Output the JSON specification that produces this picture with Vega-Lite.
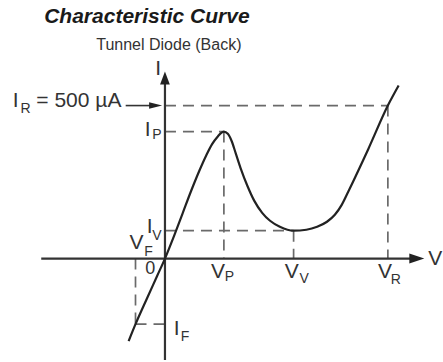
{
  "$schema": "https://vega.github.io/schema/vega-lite/v6.json",
  "width": 443,
  "height": 362,
  "autosize": {"type": "fit", "contains": "padding"},
  "padding": 0,
  "background": "white",
  "config": {"view": {"stroke": null}},
  "datasets": {
    "curve": [
      {"v": -74, "i": -269.75},
      {"v": -60, "i": -214.5},
      {"v": -36, "i": -128},
      {"v": -16, "i": -57},
      {"v": 0, "i": 0},
      {"v": 18, "i": 72},
      {"v": 36, "i": 148},
      {"v": 54, "i": 224},
      {"v": 70, "i": 287},
      {"v": 84, "i": 337},
      {"v": 96, "i": 374},
      {"v": 108, "i": 400},
      {"v": 114, "i": 410},
      {"v": 120, "i": 415},
      {"v": 128, "i": 407.9},
      {"v": 136, "i": 383.5},
      {"v": 144, "i": 344.5},
      {"v": 154, "i": 295.75},
      {"v": 168, "i": 237.25},
      {"v": 182, "i": 188.5},
      {"v": 198, "i": 149.5},
      {"v": 214, "i": 123.5},
      {"v": 234, "i": 104},
      {"v": 262, "i": 91},
      {"v": 288, "i": 94.25},
      {"v": 310, "i": 104},
      {"v": 330, "i": 120.25},
      {"v": 346, "i": 143},
      {"v": 360, "i": 175.5},
      {"v": 374, "i": 221},
      {"v": 414, "i": 357.5},
      {"v": 454, "i": 500},
      {"v": 476, "i": 565.5}
    ],
    "guides": [
      {"x": 0, "x2": 454, "y": 500, "y2": 500},
      {"x": 454, "x2": 454, "y": 500, "y2": 0},
      {"x": 0, "x2": 120, "y": 415, "y2": 415},
      {"x": 120, "x2": 120, "y": 415, "y2": 0},
      {"x": 0, "x2": 262, "y": 91, "y2": 91},
      {"x": 262, "x2": 262, "y": 91, "y2": 0},
      {"x": -60, "x2": -60, "y": 0, "y2": -214.5},
      {"x": -60, "x2": 0, "y": -214.5, "y2": -214.5}
    ],
    "axes": [
      {"x": -252, "x2": 506, "y": 0, "y2": 0},
      {"x": 0, "x2": 0, "y": -331.5, "y2": 585}
    ],
    "pointer": [
      {"x": -80, "x2": -30, "y": 500, "y2": 500}
    ],
    "labels": [
      {"t": "I", "x": -20, "y": 601},
      {"t": "V", "x": 536, "y": -19.5},
      {"t": "I", "x": -310, "y": 494},
      {"t": "= 500 µA", "x": -262, "y": 494},
      {"t": "I", "x": -41, "y": 400},
      {"t": "I", "x": -37, "y": 84.5},
      {"t": "V", "x": -72, "y": 32.5},
      {"t": "V", "x": 94, "y": -65},
      {"t": "V", "x": 244, "y": -65},
      {"t": "V", "x": 434, "y": -65},
      {"t": "I", "x": 18, "y": -250}
    ],
    "subs": [
      {"t": "R", "x": -294, "y": 474.5},
      {"t": "P", "x": -26, "y": 390},
      {"t": "V", "x": -26, "y": 61.75},
      {"t": "F", "x": -42, "y": 9.75},
      {"t": "P", "x": 122, "y": -74.75},
      {"t": "V", "x": 274, "y": -81.25},
      {"t": "R", "x": 460, "y": -84.5},
      {"t": "F", "x": 32, "y": -269.75}
    ],
    "origin": [{"t": "0", "x": -40, "y": -52}],
    "title": [{"t": "Characteristic Curve", "x": -246, "y": 770}],
    "subtitle": [{"t": "Tunnel Diode (Back)", "x": -140, "y": 682.5}],
    "hArrow": [{"x": 513, "y": 0}],
    "vArrow": [{"x": 0, "y": 590}],
    "pArrow": [{"x": -19, "y": 500}]
  },
  "encoding": {
    "x": {"field": "x", "type": "quantitative", "scale": {"domain": [-336, 550], "nice": false, "zero": false}, "axis": null},
    "y": {"field": "y", "type": "quantitative", "scale": {"domain": [-331.5, 845], "nice": false, "zero": false}, "axis": null}
  },
  "layer": [
    {
      "data": {"name": "guides"},
      "mark": {"type": "rule", "color": "#6a6a6a", "strokeWidth": 1.7, "strokeDash": [11, 7]},
      "encoding": {"x2": {"field": "x2"}, "y2": {"field": "y2"}}
    },
    {
      "data": {"name": "axes"},
      "mark": {"type": "rule", "color": "#333333", "strokeWidth": 2.2},
      "encoding": {"x2": {"field": "x2"}, "y2": {"field": "y2"}}
    },
    {
      "data": {"name": "pointer"},
      "mark": {"type": "rule", "color": "#333333", "strokeWidth": 1.6},
      "encoding": {"x2": {"field": "x2"}, "y2": {"field": "y2"}}
    },
    {
      "data": {"name": "curve"},
      "mark": {"type": "line", "color": "#222222", "strokeWidth": 2.2, "interpolate": "monotone"},
      "encoding": {
        "x": {"field": "v", "type": "quantitative"},
        "y": {"field": "i", "type": "quantitative"},
        "order": {"field": "v", "type": "quantitative"}
      }
    },
    {
      "data": {"name": "hArrow"},
      "mark": {"type": "point", "shape": "M1,0L-1,-0.67L-1,0.67Z", "size": 225, "filled": true, "opacity": 1, "color": "#222222", "strokeWidth": 0}
    },
    {
      "data": {"name": "vArrow"},
      "mark": {"type": "point", "shape": "M0,-1L0.75,1L-0.75,1Z", "size": 169, "filled": true, "opacity": 1, "color": "#222222", "strokeWidth": 0}
    },
    {
      "data": {"name": "pArrow"},
      "mark": {"type": "point", "shape": "M1,0L-1,-0.5L-1,0.5Z", "size": 169, "filled": true, "opacity": 1, "color": "#222222", "strokeWidth": 0}
    },
    {
      "data": {"name": "labels"},
      "mark": {"type": "text", "align": "left", "baseline": "alphabetic", "font": "Liberation Sans", "fontSize": 21, "color": "#333333"},
      "encoding": {"text": {"field": "t"}}
    },
    {
      "data": {"name": "subs"},
      "mark": {"type": "text", "align": "left", "baseline": "alphabetic", "font": "Liberation Sans", "fontSize": 14, "color": "#333333"},
      "encoding": {"text": {"field": "t"}}
    },
    {
      "data": {"name": "origin"},
      "mark": {"type": "text", "align": "left", "baseline": "alphabetic", "font": "Liberation Sans", "fontSize": 18, "color": "#333333"},
      "encoding": {"text": {"field": "t"}}
    },
    {
      "data": {"name": "title"},
      "mark": {"type": "text", "align": "left", "baseline": "alphabetic", "font": "Liberation Sans", "fontSize": 21, "fontWeight": "bold", "fontStyle": "italic", "color": "#1a1a1a"},
      "encoding": {"text": {"field": "t"}}
    },
    {
      "data": {"name": "subtitle"},
      "mark": {"type": "text", "align": "left", "baseline": "alphabetic", "font": "Liberation Sans", "fontSize": 16, "color": "#333333"},
      "encoding": {"text": {"field": "t"}}
    }
  ]
}
